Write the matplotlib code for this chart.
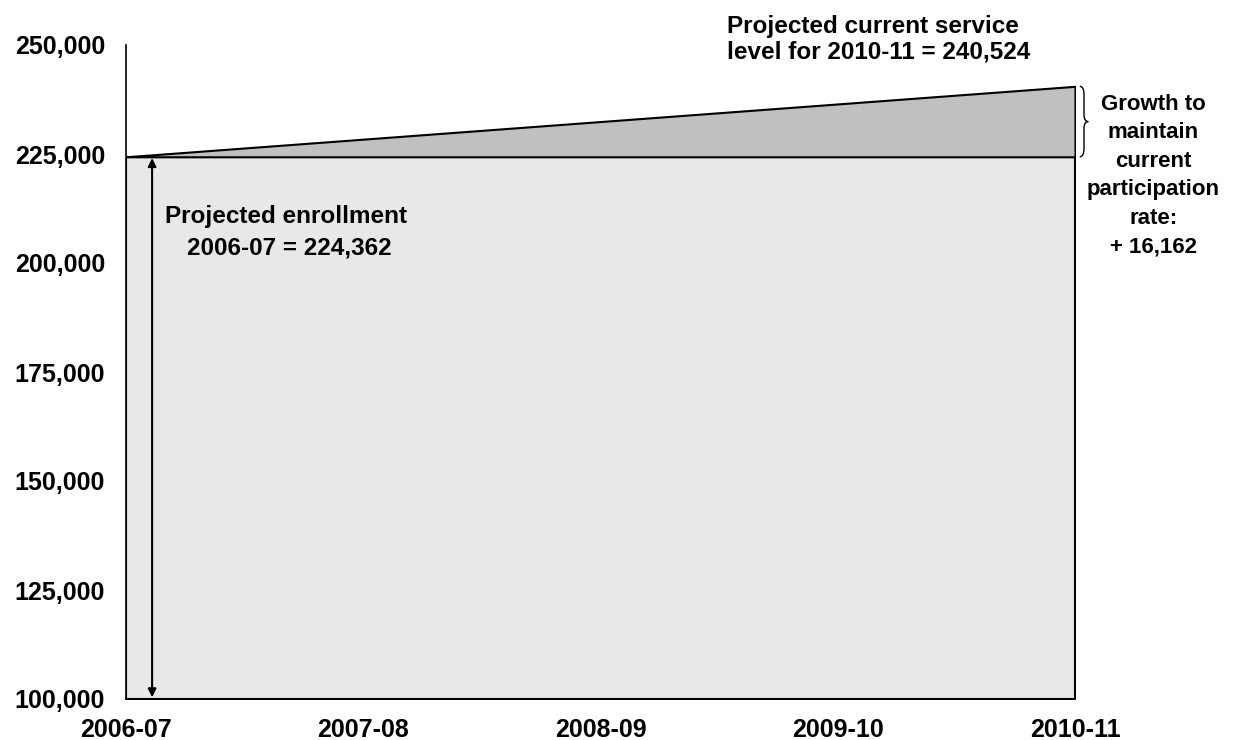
import matplotlib
matplotlib.use("Agg")
import matplotlib.pyplot as plt
from matplotlib.path import Path
from matplotlib.patches import PathPatch
import numpy as np

plt.rcParams['font.family'] = ['Liberation Sans', 'DejaVu Sans']
plt.rcParams['font.weight'] = 'bold'

years = ["2006-07", "2007-08", "2008-09", "2009-10", "2010-11"]
base_enrollment = [224362, 224362, 224362, 224362, 224362]
service_level = [224362, 228403, 232443, 236484, 240524]
yticks = [100000, 125000, 150000, 175000, 200000, 225000, 250000]

fig = plt.figure(figsize=(12.34, 7.4), dpi=100)
ax = fig.add_axes([126/1234, 1-699/740, (1075-126)/1234, (699-45)/740])

x = np.arange(len(years))
ax.fill_between(x, yticks[0], base_enrollment, facecolor='#E8E8E8',
                edgecolor='black', linewidth=1.5, zorder=1)
ax.fill_between(x, base_enrollment, service_level, facecolor='#C0C0C0',
                edgecolor='black', linewidth=1.5, zorder=2)

ax.set_xlim(0, len(years)-1)
ax.set_ylim(yticks[0], yticks[-1])
ax.set_xticks(x)
ax.set_xticklabels(years, fontsize=18, fontweight='bold')
ax.set_yticks(yticks)
ax.set_yticklabels([f"{v:,}" for v in yticks], fontsize=18, fontweight='bold')
ax.tick_params(axis='y', length=0, pad=15)
ax.tick_params(axis='x', length=0, pad=14)
for s in ['top', 'right']:
    ax.spines[s].set_visible(False)
for s in ['left', 'bottom']:
    ax.spines[s].set_linewidth(1.2)

# double-headed arrow
ax.annotate('', xy=(0.11, yticks[0] + 400), xytext=(0.11, base_enrollment[0] - 300),
            arrowprops=dict(arrowstyle='<|-|>', color='black', lw=1.5,
                            mutation_scale=12, shrinkA=0, shrinkB=0), zorder=3)

ax.text(0.675, 210650, "Projected enrollment", ha='center', va='center',
        fontsize=17.5, fontweight='bold')
ax.text(0.69, 203500, "2006-07 = 224,362", ha='center', va='center',
        fontsize=17.5, fontweight='bold')

ax.text(2.533, 254300, "Projected current service", ha='left', va='center',
        fontsize=17.5, fontweight='bold', clip_on=False)
ax.text(2.533, 248400, "level for 2010-11 = 240,524", ha='left', va='center',
        fontsize=17.5, fontweight='bold', clip_on=False)

ax.text(4.33, 238800, "Growth to\nmaintain\ncurrent\nparticipation\nrate:\n+ 16,162",
        ha='center', va='top', fontsize=16, fontweight='bold', linespacing=1.47,
        clip_on=False)

# brace
top = service_level[-1]
bot = base_enrollment[-1]
mid = (top + bot) / 2
x0, x1, x2 = 4.02, 4.038, 4.056
h = (top - bot)
pv2 = [(x0, top), (x1, top), (x1, top - 0.12*h), (x1, mid + 0.1*h),
       (x1, mid), (x2, mid),
       (x2, mid), (x1, mid), (x1, mid - 0.1*h), (x1, bot + 0.12*h),
       (x1, bot), (x0, bot)]
codes2 = [Path.MOVETO, Path.CURVE3, Path.CURVE3, Path.LINETO,
          Path.CURVE3, Path.CURVE3,
          Path.MOVETO, Path.CURVE3, Path.CURVE3, Path.LINETO,
          Path.CURVE3, Path.CURVE3]
ax.add_patch(PathPatch(Path(pv2, codes2), facecolor='none', edgecolor='black',
                       lw=1.0, clip_on=False))

fig.savefig("out.png", dpi=100)
